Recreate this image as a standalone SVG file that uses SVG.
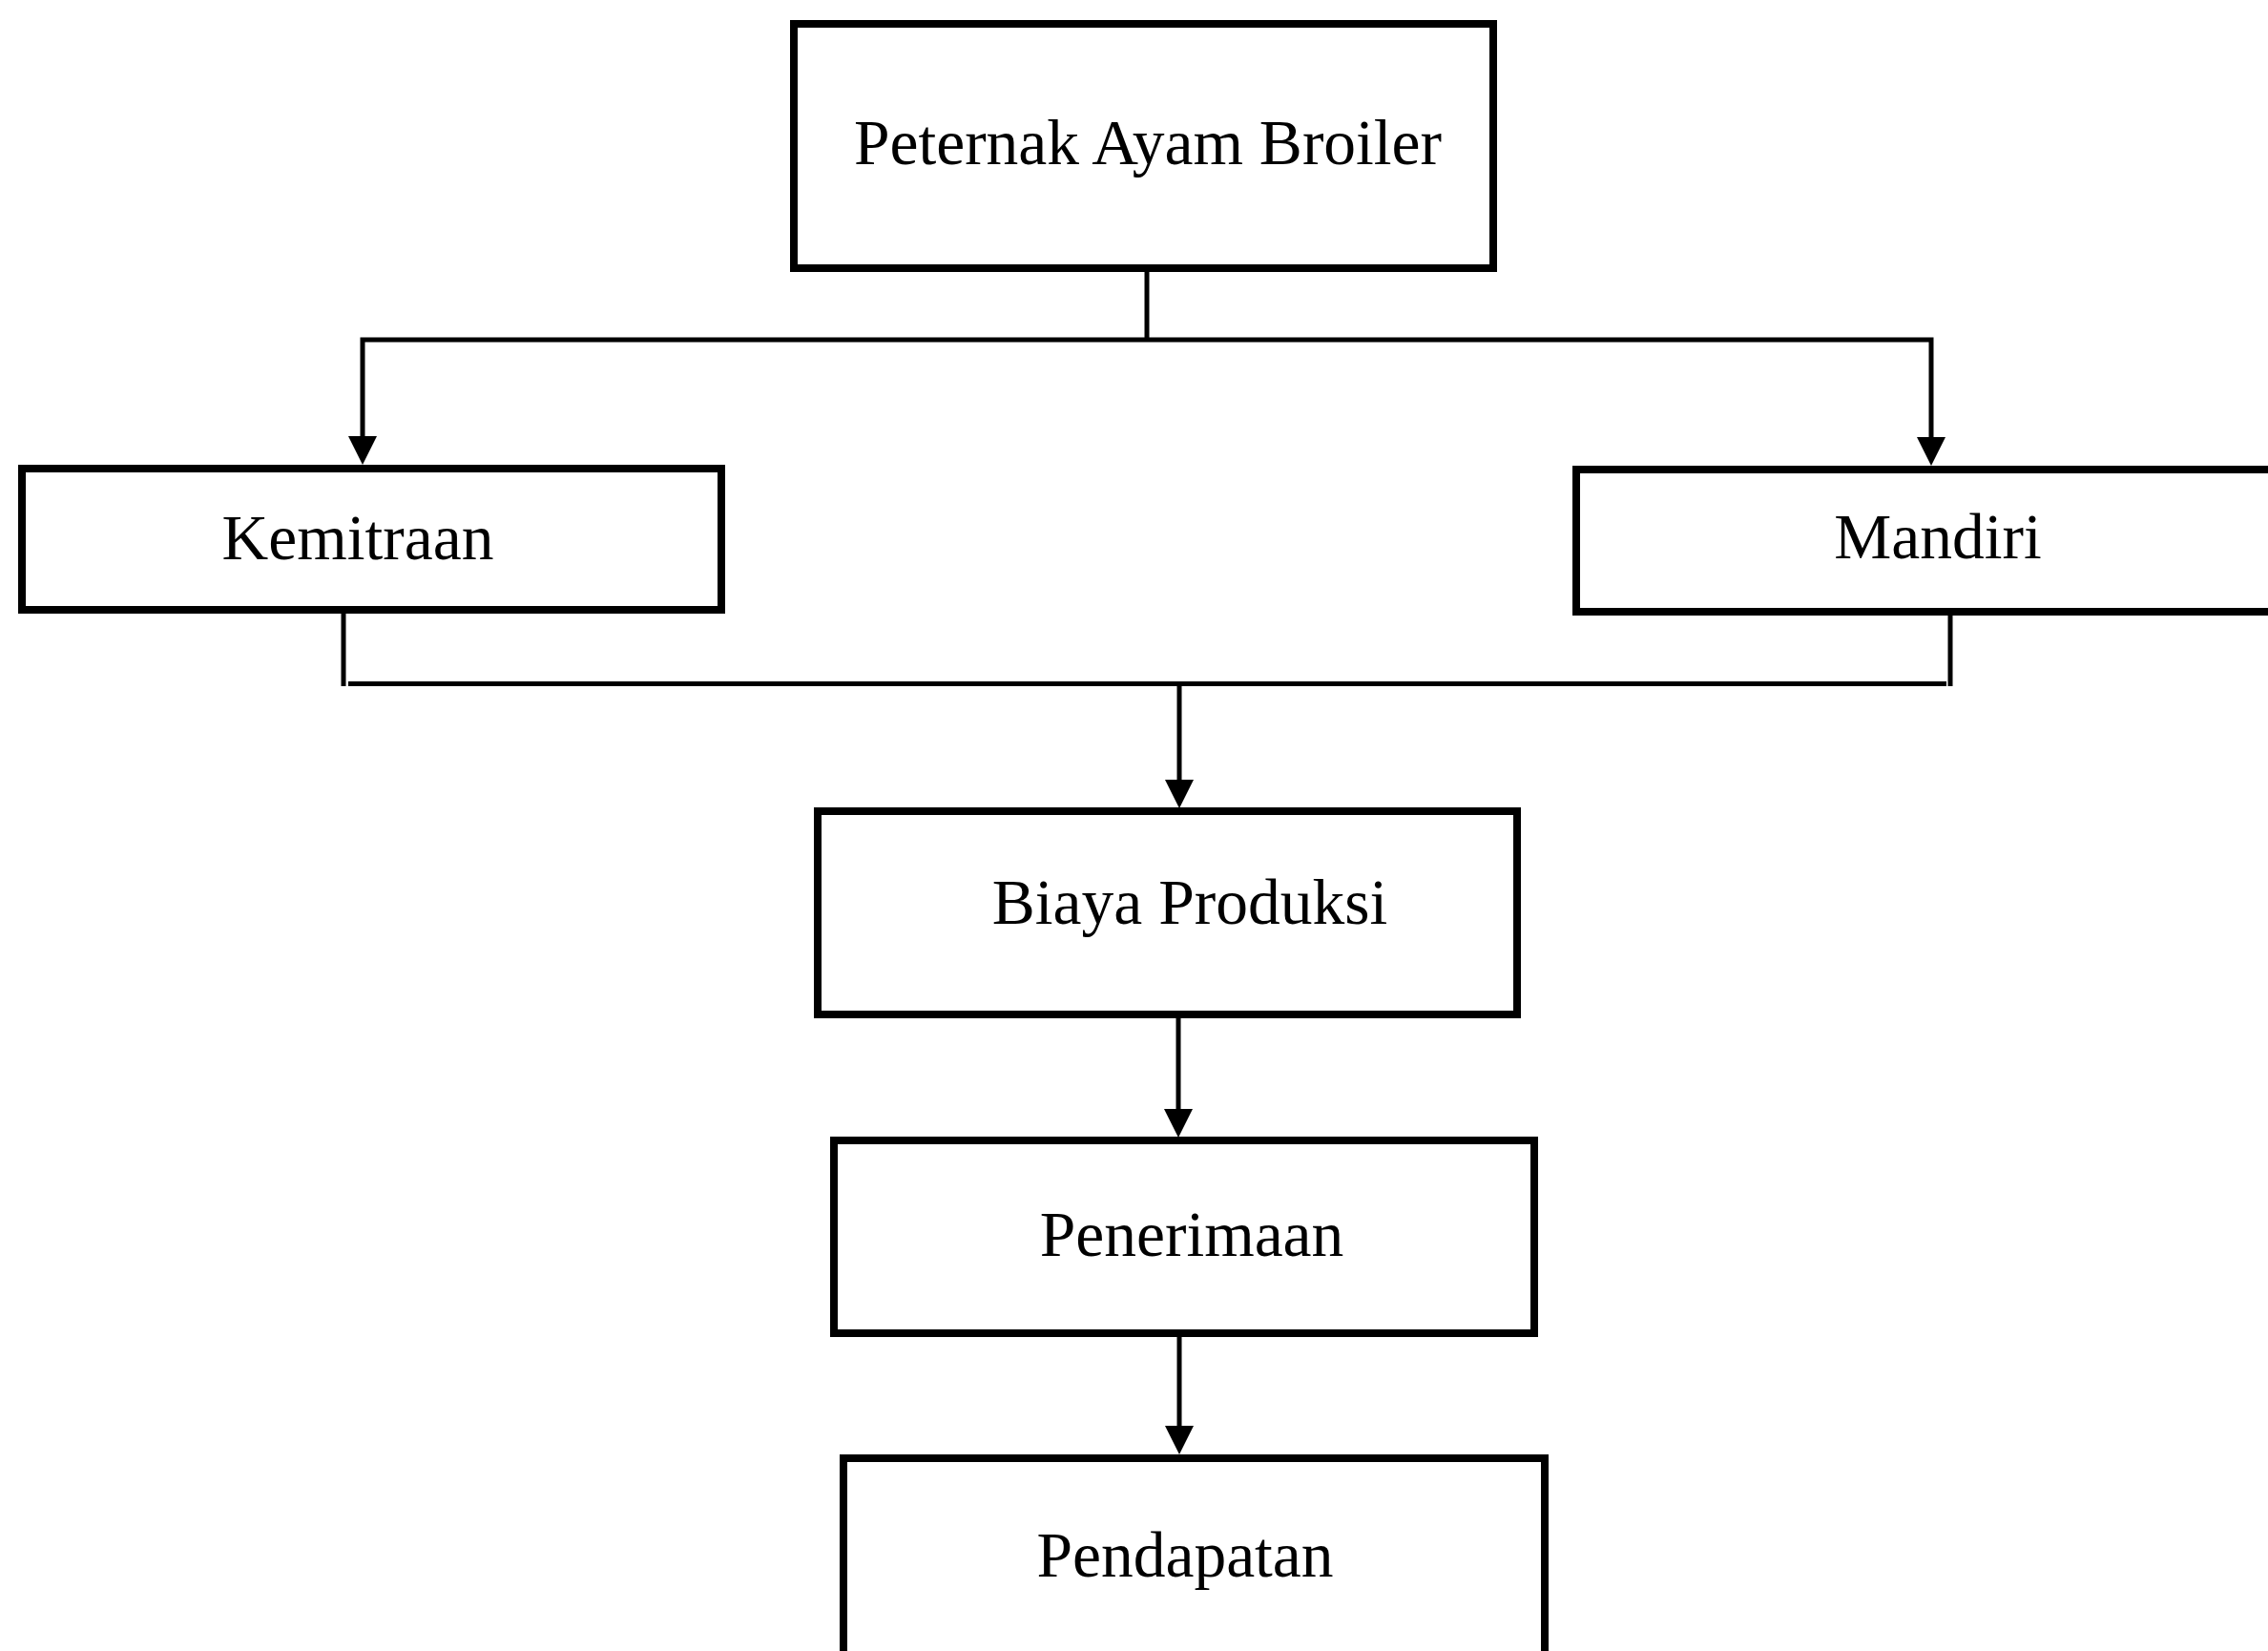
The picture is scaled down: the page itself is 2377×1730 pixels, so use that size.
<svg xmlns="http://www.w3.org/2000/svg" width="2377" height="1730" viewBox="0 0 2377 1730">
  <style>
    .box { fill: #ffffff; stroke: #000000; stroke-width: 8; }
    .lbl { font-family: "Liberation Serif", "Times New Roman", serif; font-size: 67.5px; fill: #000000; text-anchor: middle; }
    .conn { fill: none; stroke: #000000; stroke-width: 5; }
  </style>
  <defs>
    <marker id="arrow" markerUnits="userSpaceOnUse" markerWidth="30" markerHeight="30" viewBox="0 0 30 30" refX="0" refY="15" orient="auto">
      <path d="M0,0 L30,15 L0,30 Z" fill="#000000"/>
    </marker>
  </defs>
  <rect x="0" y="0" width="2377" height="1730" fill="#ffffff"/>

  <g id="connectors">
    <path class="conn" d="M1202,285 V356"/>
    <path class="conn" d="M1202,356 H380 V457" marker-end="url(#arrow)"/>
    <path class="conn" d="M1202,356 H2024 V458" marker-end="url(#arrow)"/>
    <path class="conn" d="M360,643 V719"/>
    <path class="conn" d="M365,716.5 H2040"/>
    <path class="conn" d="M2044,645 V719"/>
    <path class="conn" d="M1236,716.5 V817" marker-end="url(#arrow)"/>
    <path class="conn" d="M1235,1067 V1162" marker-end="url(#arrow)"/>
    <path class="conn" d="M1236,1400 V1494" marker-end="url(#arrow)"/>
  </g>

  <g id="node-peternak">
    <rect class="box" x="832" y="25" width="733" height="256"/>
    <text class="lbl" x="1203" y="172" font-size="69.5">Peternak Ayam Broiler</text>
  </g>
  <g id="node-kemitraan">
    <rect class="box" x="23" y="491" width="733" height="148"/>
    <text class="lbl" x="375" y="586">Kemitraan</text>
  </g>
  <g id="node-mandiri">
    <rect class="box" x="1652" y="492" width="800" height="149"/>
    <text class="lbl" x="2031" y="585">Mandiri</text>
  </g>
  <g id="node-biaya">
    <rect class="box" x="857" y="850" width="733" height="213"/>
    <text class="lbl" x="1247" y="968" font-size="69">Biaya Produksi</text>
  </g>
  <g id="node-penerimaan">
    <rect class="box" x="874" y="1195" width="734" height="202"/>
    <text class="lbl" x="1249" y="1316">Penerimaan</text>
  </g>
  <g id="node-pendapatan">
    <rect class="box" x="884" y="1528" width="735" height="300"/>
    <text class="lbl" x="1242" y="1652">Pendapatan</text>
  </g>
</svg>
